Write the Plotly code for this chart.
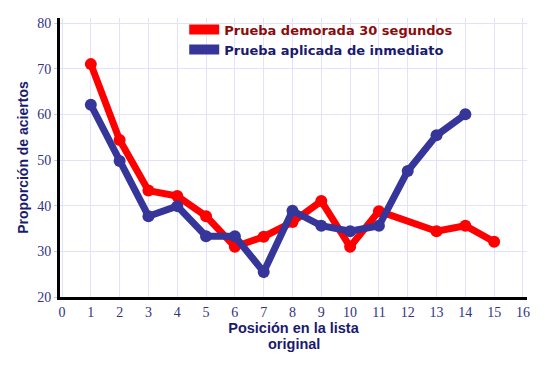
import plotly.graph_objects as go

x_demorada = [1, 2, 3, 4, 5, 6, 7, 8, 9, 10, 11, 13, 14, 15]
y_demorada = [71, 54.4, 43.3, 42.1, 37.7, 31, 33.2, 36.4, 41, 31, 38.8, 34.4, 35.6, 32.1]
x_inmediato = [1, 2, 3, 4, 5, 6, 7, 8, 9, 10, 11, 12, 13, 14]
y_inmediato = [62.1, 49.8, 37.7, 39.9, 33.3, 33.3, 25.5, 38.9, 35.6, 34.4, 35.6, 47.6, 55.4, 60]
x_ticks = list(range(0, 17))
y_ticks = [20, 30, 40, 50, 60, 70, 80]
nombres = ["Prueba demorada 30 segundos", "Prueba aplicada de inmediato"]
titulo_x = ["Posición en la lista", "original"]

RED = "#ff0000"
BLUE = "#35359a"
NAVY = "#1a1a6e"

fig = go.Figure()
fig.add_trace(go.Scatter(x=x_demorada, y=y_demorada, mode="lines+markers",
                         line=dict(color=RED, width=7), marker=dict(color=RED, size=12),
                         showlegend=False))
fig.add_trace(go.Scatter(x=x_inmediato, y=y_inmediato, mode="lines+markers",
                         line=dict(color=BLUE, width=7), marker=dict(color=BLUE, size=12),
                         showlegend=False))
# legend entries
fig.add_trace(go.Scatter(x=[None], y=[None], mode="lines",
                         name="<b><span style='color:#8b0b0b'>" + nombres[0] + "</span></b>",
                         line=dict(color=RED, width=10)))
fig.add_trace(go.Scatter(x=[None], y=[None], mode="lines",
                         name="<b><span style='color:#1a1a6e'>" + nombres[1] + "</span></b>",
                         line=dict(color=BLUE, width=10)))

fig.update_layout(
    width=545, height=371,
    margin=dict(l=52, r=26, t=7, b=82),
    paper_bgcolor="white", plot_bgcolor="white",
    legend=dict(x=0.266, y=1.012, xanchor="left", yanchor="top",
                bgcolor="rgba(0,0,0,0)", font=dict(family="DejaVu Sans", size=13),
                tracegroupgap=3, traceorder="normal"),
    xaxis=dict(range=[-0.07, 16.14], tickvals=x_ticks, showgrid=True, gridcolor="#e2e2fa",
               gridwidth=1, zeroline=False, showline=True, linecolor="black", linewidth=3,
               ticks="", automargin=False,
               tickfont=dict(family="Liberation Serif", size=14, color="#333380"),
               title=dict(text="<b>" + titulo_x[0] + "</b>",
                          font=dict(family="Liberation Sans", size=14.5, color=NAVY),
                          standoff=1)),
    yaxis=dict(range=[20, 81.1], tickvals=y_ticks, showgrid=True, gridcolor="#e2e2fa",
               gridwidth=1, zeroline=False, showline=True, linecolor="black", linewidth=3,
               ticks="outside", ticklen=3, tickcolor="#cccccc", automargin=False,
               tickfont=dict(family="Liberation Serif", size=14, color="#333380"),
               title=dict(text="<b>Proporción de aciertos</b>",
                          font=dict(family="Liberation Sans", size=14, color=NAVY),
                          standoff=6)),
    annotations=[dict(text="<b>" + titulo_x[1] + "</b>", xref="paper", yref="paper",
                      x=0.5, y=-0.17, xanchor="center", yanchor="middle", showarrow=False,
                      font=dict(family="Liberation Sans", size=14.5, color=NAVY))],
)

fig.write_html("out.html")
